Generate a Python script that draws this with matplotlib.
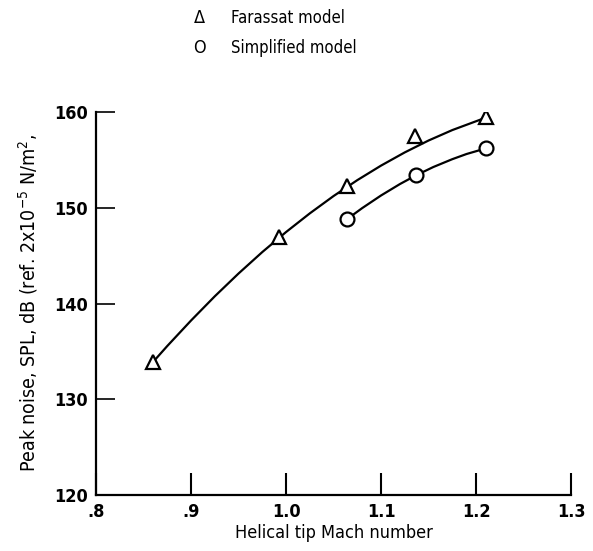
import matplotlib.pyplot as plt

# Farassat model (triangles) and simplified model (circles)
mach_farassat = [0.86, 0.993, 1.064, 1.136, 1.21]
spl_farassat = [133.9, 146.9, 152.3, 157.5, 159.5]
mach_simple = [1.064, 1.137, 1.21]
spl_simple = [148.8, 153.4, 156.2]

# faired curves as drawn on the original
curve_f_x = [0.86, 0.875, 0.9, 0.925, 0.95, 0.975, 1.0, 1.025, 1.05,
             1.075, 1.1, 1.125, 1.15, 1.175, 1.21]
curve_f_y = [133.90, 135.57, 138.23, 140.76, 143.14, 145.38, 147.47, 149.42, 151.23,
             152.89, 154.41, 155.79, 157.03, 158.12, 159.41]
curve_s_x = [1.064, 1.08, 1.1, 1.12, 1.137, 1.155, 1.175, 1.19, 1.21]
curve_s_y = [148.80, 149.96, 151.29, 152.49, 153.40, 154.26, 155.08, 155.62, 156.20]

xticks = [0.8, 0.9, 1.0, 1.1, 1.2, 1.3]
xticklabels = ['.8', '.9', '1.0', '1.1', '1.2', '1.3']
yticks = [130, 140, 150, 160]

plt.rcParams['font.family'] = ['DejaVu Sans']
plt.rcParams['font.stretch'] = 'condensed'
plt.rcParams['mathtext.fontset'] = 'dejavusans'

fig = plt.figure(figsize=(5.93, 5.51), dpi=100)
ax = fig.add_axes([0.162, 0.1016, 0.801, 0.695])

ax.plot(curve_f_x, curve_f_y, color='black', lw=1.6, zorder=2)
ax.plot(curve_s_x, curve_s_y, color='black', lw=1.6, zorder=2)
ax.plot(mach_farassat, spl_farassat, linestyle='none', marker='^', ms=10,
        mfc='white', mec='black', mew=1.6, zorder=3)
ax.plot(mach_simple, spl_simple, linestyle='none', marker='o', ms=10,
        mfc='white', mec='black', mew=1.6, zorder=3)

ax.set_xlim(0.8, 1.3)
ax.set_ylim(120, 160)
ax.spines['top'].set_visible(False)
ax.spines['right'].set_visible(False)
ax.spines['left'].set_linewidth(1.6)
ax.spines['bottom'].set_linewidth(1.6)

ax.set_xticks(xticks)
ax.set_xticklabels(xticklabels, fontweight='bold')
ax.set_yticks([120] + yticks)
ax.set_yticklabels([str(v) for v in [120] + yticks], fontweight='bold')
ax.tick_params(axis='x', direction='in', length=16, width=1.5, labelsize=13, pad=6)
ax.tick_params(axis='y', direction='in', length=14, width=1.2, labelsize=13, pad=6)
ax.yaxis.get_major_ticks()[0].tick1line.set_visible(False)

ax.set_xlabel('Helical tip Mach number', fontsize=13, labelpad=2)
ax.set_ylabel('Peak noise, SPL, dB (ref. 2x10$^{-5}$ N/m$^{2}$,', fontsize=14, labelpad=10)

# legend at top
fig.text(0.337, 0.967, r'$\Delta$', fontsize=13, ha='center', va='center')
fig.text(0.39, 0.967, 'Farassat model', fontsize=12, ha='left', va='center')
fig.text(0.337, 0.913, 'O', fontsize=13, ha='center', va='center')
fig.text(0.39, 0.913, 'Simplified model', fontsize=12, ha='left', va='center')

fig.savefig('out.png', dpi=100)
